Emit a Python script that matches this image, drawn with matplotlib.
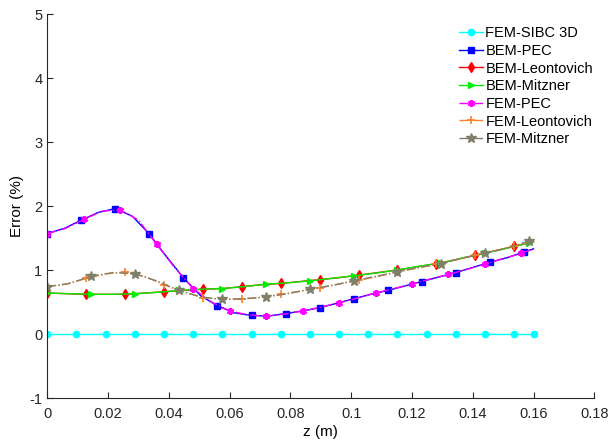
import numpy as np
import matplotlib
matplotlib.use('Agg')
import matplotlib.pyplot as plt

plt.rcParams['font.family'] = ['Liberation Sans', 'DejaVu Sans']
plt.rcParams['font.size'] = 10
plt.rcParams['axes.unicode_minus'] = False

# sample positions (m) for each series; markers sit on every second sample
z_sibc = [0.0, 0.0048, 0.0096, 0.0144, 0.0192, 0.024, 0.0288, 0.0336, 0.0384, 0.0432,
          0.048, 0.0528, 0.0576, 0.0624, 0.0672, 0.072, 0.0768, 0.0816, 0.0864, 0.0912,
          0.096, 0.1008, 0.1056, 0.1104, 0.1152, 0.12, 0.1248, 0.1296, 0.1344, 0.1392,
          0.144, 0.1488, 0.1536, 0.1584, 0.16]
err_sibc = [0.0, 0.0, 0.0, 0.0, 0.0, 0.0, 0.0, 0.0, 0.0, 0.0,
            0.0, 0.0, 0.0, 0.0, 0.0, 0.0, 0.0, 0.0, 0.0, 0.0,
            0.0, 0.0, 0.0, 0.0, 0.0, 0.0, 0.0, 0.0, 0.0, 0.0,
            0.0, 0.0, 0.0, 0.0, 0.0]

z_bem_pec = [0.0, 0.0056, 0.0112, 0.0168, 0.0224, 0.028, 0.0336, 0.0392, 0.0448, 0.0504,
             0.056, 0.0616, 0.0672, 0.0728, 0.0784, 0.084, 0.0896, 0.0952, 0.1008, 0.1064,
             0.112, 0.1176, 0.1232, 0.1288, 0.1344, 0.14, 0.1456, 0.1512, 0.1568, 0.16]
err_bem_pec = [1.57, 1.65, 1.78, 1.90, 1.96, 1.84, 1.56, 1.21, 0.88, 0.60,
               0.44, 0.33, 0.29, 0.28, 0.32, 0.36, 0.41, 0.48, 0.55, 0.62,
               0.68, 0.75, 0.82, 0.89, 0.96, 1.04, 1.12, 1.19, 1.28, 1.33]

z_fem_pec = [0.0, 0.006, 0.012, 0.018, 0.024, 0.03, 0.036, 0.042, 0.048, 0.054,
             0.06, 0.066, 0.072, 0.078, 0.084, 0.09, 0.096, 0.102, 0.108, 0.114,
             0.12, 0.126, 0.132, 0.138, 0.144, 0.15, 0.156, 0.16]
err_fem_pec = [1.57, 1.65, 1.79, 1.92, 1.94, 1.78, 1.40, 1.03, 0.71, 0.50,
               0.36, 0.30, 0.28, 0.31, 0.36, 0.42, 0.49, 0.56, 0.64, 0.71,
               0.78, 0.86, 0.93, 1.01, 1.09, 1.18, 1.26, 1.33]

z_leon = [0.0, 0.0064, 0.0128, 0.0192, 0.0256, 0.032, 0.0384, 0.0448, 0.0512, 0.0576,
          0.064, 0.0704, 0.0768, 0.0832, 0.0896, 0.096, 0.1024, 0.1088, 0.1152, 0.1216,
          0.128, 0.1344, 0.1408, 0.1472, 0.1536, 0.16]
err_bem_leon = [0.64, 0.63, 0.62, 0.62, 0.62, 0.64, 0.66, 0.68, 0.70, 0.71,
                0.74, 0.77, 0.79, 0.82, 0.85, 0.88, 0.92, 0.96, 1.00, 1.05,
                1.10, 1.16, 1.23, 1.30, 1.37, 1.44]
err_fem_leon = [0.74, 0.78, 0.87, 0.94, 0.97, 0.90, 0.77, 0.66, 0.57, 0.54,
                0.55, 0.57, 0.62, 0.67, 0.72, 0.78, 0.84, 0.90, 0.97, 1.03,
                1.09, 1.16, 1.23, 1.30, 1.37, 1.46]

z_mitz = [0.0, 0.0072, 0.0144, 0.0216, 0.0288, 0.036, 0.0432, 0.0504, 0.0576, 0.0648,
          0.072, 0.0792, 0.0864, 0.0936, 0.1008, 0.108, 0.1152, 0.1224, 0.1296, 0.1368,
          0.144, 0.1512, 0.1584, 0.16]
err_bem_mitz = [0.64, 0.63, 0.62, 0.62, 0.63, 0.65, 0.68, 0.70, 0.71, 0.74,
                0.78, 0.80, 0.83, 0.87, 0.91, 0.95, 1.00, 1.06, 1.11, 1.19,
                1.26, 1.34, 1.42, 1.44]
err_fem_mitz = [0.74, 0.79, 0.90, 0.96, 0.94, 0.83, 0.68, 0.58, 0.54, 0.55,
                0.58, 0.63, 0.70, 0.76, 0.83, 0.90, 0.97, 1.04, 1.10, 1.19,
                1.26, 1.34, 1.45, 1.46]

x_ticks = [0, 0.02, 0.04, 0.06, 0.08, 0.1, 0.12, 0.14, 0.16, 0.18]
x_tick_labels = ['0', '0.02', '0.04', '0.06', '0.08', '0.1', '0.12', '0.14', '0.16', '0.18']
y_ticks = [-1, 0, 1, 2, 3, 4, 5]

fig = plt.figure(figsize=(6.09, 4.46), dpi=100)
ax = fig.add_axes([0.0777, 0.1076, 0.8982, 0.861])


def even_marks(n):
    return list(range(0, n, 2))


series = [
    (z_sibc, err_sibc, 'FEM-SIBC 3D', dict(color='#00ffff', ls='-', marker='o', ms=4.5)),
    (z_bem_pec, err_bem_pec, 'BEM-PEC', dict(color='#0000ff', ls='-', marker='s', ms=3.8)),
    (z_leon, err_bem_leon, 'BEM-Leontovich', dict(color='#ff0000', ls='-', marker='d', ms=5)),
    (z_mitz, err_bem_mitz, 'BEM-Mitzner', dict(color='#00ee00', ls='-', marker='>', ms=5)),
    (z_fem_pec, err_fem_pec, 'FEM-PEC', dict(color='#ff00ff', ls='-.', marker=(6, 2, 0), ms=5, mew=1.6)),
    (z_leon, err_fem_leon, 'FEM-Leontovich', dict(color='#ff7f27', ls='-.', marker='+', ms=6, mew=1.2)),
    (z_mitz, err_fem_mitz, 'FEM-Mitzner', dict(color='#80806a', ls='-.', marker='*', ms=7)),
]

for z, err, label, style in series:
    n_pts = len(z) - 1 if len(z) % 2 == 0 else len(z)
    ax.plot(z, err, label=label, lw=1.0, markevery=even_marks(n_pts), **style)

ax.set_xlim(0, 0.18)
ax.set_ylim(-1, 5)
ax.set_xticks(x_ticks)
ax.set_xticklabels(x_tick_labels)
ax.set_yticks(y_ticks)
ax.set_xlabel('z (m)', fontsize=11, labelpad=3)
ax.set_ylabel('Error (%)', fontsize=11)

for side in ['top', 'right']:
    ax.spines[side].set_visible(False)
for side in ['left', 'bottom']:
    ax.spines[side].set_color('#262626')
    ax.spines[side].set_linewidth(0.8)
ax.tick_params(direction='in', length=4, width=0.8, colors='#262626', labelsize=10.5)
ax.tick_params(axis='x', pad=6.5)

ax.legend(loc='upper left', bbox_to_anchor=(0.7527, 0.968), frameon=False,
          borderpad=0, borderaxespad=0, handlelength=1.65, handletextpad=0.15,
          labelspacing=0.25, fontsize=10.5)

fig.savefig('out.png', dpi=100)
